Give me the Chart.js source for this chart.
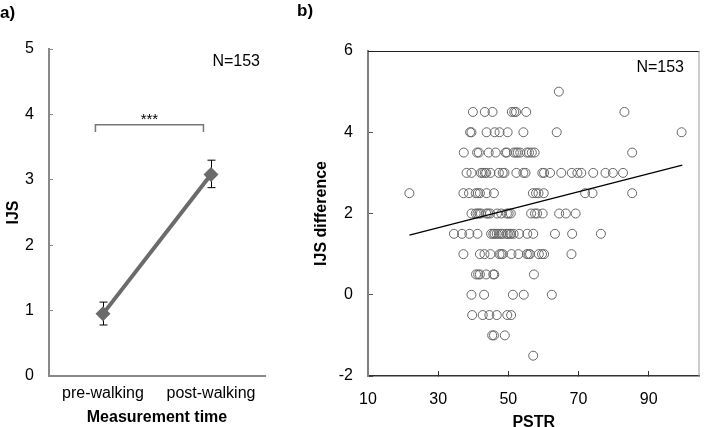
<!DOCTYPE html>
<html>
<head>
<meta charset="utf-8">
<script src="https://cdn.jsdelivr.net/npm/chart.js@4.4.1/dist/chart.umd.min.js"></script>
<style>
  body { margin: 0; background: #fff; width: 705px; height: 427px; overflow: hidden; position: relative; }
  canvas { position: absolute; top: 0; }
  #chartA { left: 0; }
  #chartB { left: 280px; }
</style>
</head>
<body>
<canvas id="chartA" width="280" height="427"></canvas>
<canvas id="chartB" width="425" height="427"></canvas>
<script>
// panel a: mean IJS before / after walking
const timeLabels = ['pre-walking', 'post-walking'];
const ijsMeans = [0.95, 3.08];
const ijsLow = [0.78, 2.88];
const ijsHigh = [1.13, 3.30];
const sigFrom = -0.07, sigTo = 0.93, sigY = 3.84, sigDrop = 0.11;

// panel b: IJS difference vs PSTR, one row of points per IJS difference level
const diffLevels = [5, 4.5, 4, 3.5, 3, 2.5, 2, 1.5, 1, 0.5, 0, -0.5, -1, -1.5];
const pstrByLevel = [
  [64.4],
  [39.9, 43.3, 45.5, 51.0, 51.7, 52.2, 55.1, 83.1],
  [39.1, 39.5, 43.8, 46.1, 47.5, 49.8, 54.3, 63.8, 99.4],
  [37.3, 41.1, 41.6, 44.4, 46.4, 49.2, 49.6, 51.6, 52.2, 52.7, 53.4, 55.3, 55.9, 56.7, 57.5, 85.3],
  [38.1, 39.5, 42.2, 42.7, 43.3, 43.7, 44.9, 47.3, 48.4, 48.9, 52.3, 54.3, 54.9, 59.7, 60.2, 61.9, 65.1, 68.1, 69.7, 70.8, 74.2, 77.7, 79.8, 82.7],
  [21.8, 37.2, 38.8, 40.7, 41.3, 41.9, 43.8, 45.9, 57.0, 57.9, 58.6, 60.1, 71.9, 74.0, 85.3],
  [39.5, 40.7, 41.2, 41.7, 42.2, 43.7, 44.2, 44.8, 46.8, 48.0, 49.6, 50.1, 50.7, 56.5, 57.6, 58.2, 59.8, 64.5, 66.4, 69.2],
  [34.5, 36.8, 38.9, 41.2, 45.1, 45.7, 46.1, 46.7, 47.3, 47.9, 48.4, 49.5, 49.9, 50.4, 50.8, 51.5, 53.1, 55.4, 57.1, 63.3, 68.2, 76.4],
  [37.2, 41.9, 43.2, 44.9, 47.5, 48.0, 48.4, 50.9, 52.9, 55.3, 55.8, 56.2, 58.7, 59.6, 60.2, 68.0],
  [40.8, 41.4, 41.9, 43.7, 45.7, 46.0, 57.3],
  [39.5, 43.1, 51.3, 54.4, 62.4],
  [39.7, 42.7, 44.6, 46.7, 49.7, 50.8],
  [45.4, 45.9, 49.0],
  [57.1]
];
const pstrTicks = [10, 30, 50, 70, 90];
const trendX = [21.8, 99.6];
const trendY = [1.47, 3.19];

const fontFamily = '"Liberation Sans", Arial, sans-serif';
Chart.defaults.font.family = fontFamily;
Chart.defaults.font.size = 16;
Chart.defaults.color = '#000';

const panelA = {
  id: 'panelA',
  beforeDatasetsDraw(chart) {
    const { ctx, scales: { x, y } } = chart;
    ctx.save();
    ctx.strokeStyle = '#000';
    ctx.lineWidth = 1;
    ijsMeans.forEach((m, i) => {
      const px = Math.round(x.getPixelForValue(i)) + 0.5;
      const top = y.getPixelForValue(ijsHigh[i]);
      const bot = y.getPixelForValue(ijsLow[i]);
      ctx.beginPath();
      ctx.moveTo(px, top); ctx.lineTo(px, bot);
      ctx.moveTo(px - 4, top); ctx.lineTo(px + 4, top);
      ctx.moveTo(px - 4, bot); ctx.lineTo(px + 4, bot);
      ctx.stroke();
    });
    ctx.restore();
  },
  afterDraw(chart) {
    const { ctx, scales: { x, y } } = chart;
    ctx.save();
    // significance bracket
    const x1 = x.getPixelForValue(sigFrom), x2 = x.getPixelForValue(sigTo);
    const yb = y.getPixelForValue(sigY), yd = y.getPixelForValue(sigY - sigDrop);
    ctx.strokeStyle = '#777';
    ctx.lineWidth = 1.5;
    ctx.beginPath();
    ctx.moveTo(x1, yd); ctx.lineTo(x1, yb); ctx.lineTo(x2, yb); ctx.lineTo(x2, yd);
    ctx.stroke();
    ctx.fillStyle = '#000';
    ctx.font = '15px ' + fontFamily;
    ctx.textAlign = 'center';
    ctx.textBaseline = 'middle';
    ctx.fillText('***', (x1 + x2) / 2, y.getPixelForValue(3.92));
    ctx.font = '16px ' + fontFamily;
    ctx.textAlign = 'right';
    ctx.fillText('N=153', 260, 62);
    ctx.font = 'bold 17px ' + fontFamily;
    ctx.textAlign = 'left';
    ctx.fillText('a)', 0, 13);
    ctx.restore();
  }
};

new Chart(document.getElementById('chartA'), {
  type: 'line',
  data: {
    labels: timeLabels,
    datasets: [{
      data: ijsMeans,
      borderColor: '#6b6b6b',
      backgroundColor: '#6b6b6b',
      borderWidth: 4,
      pointStyle: 'rectRot',
      pointRadius: 7.5,
      pointBorderWidth: 0,
      fill: false
    }]
  },
  options: {
    responsive: false,
    animation: false,
    layout: { padding: { left: 0, top: 49, right: 15, bottom: 0 } },
    plugins: { legend: { display: false }, tooltip: { enabled: false } },
    scales: {
      x: {
        offset: true,
        grid: { display: false },
        border: { color: '#888', width: 2 },
        ticks: { padding: 0, font: { size: 16 } },
        title: { display: true, text: 'Measurement time', font: { size: 16, weight: 'bold' }, padding: { top: 0, bottom: 0 } },
        afterFit(s) { s.height = 51; }
      },
      y: {
        min: 0, max: 5,
        ticks: { stepSize: 1, padding: 19, font: { size: 16 } },
        grid: { drawOnChartArea: false, drawTicks: true, tickLength: -4, color: '#888' },
        border: { color: '#888', width: 2 },
        title: { display: true, text: 'IJS', font: { size: 16, weight: 'bold' }, padding: { top: 4, bottom: 0 } },
        afterFit(s) { s.width = 49; }
      }
    }
  },
  plugins: [panelA]
});

const scatterPoints = [];
diffLevels.forEach((lv, i) => {
  pstrByLevel[i].forEach(p => scatterPoints.push({ x: p, y: lv }));
});

const panelB = {
  id: 'panelB',
  afterDraw(chart) {
    const { ctx, chartArea: a } = chart;
    ctx.save();
    ctx.lineWidth = 1;
    ctx.strokeStyle = '#222';
    ctx.beginPath();
    ctx.moveTo(a.left, a.top + 0.5); ctx.lineTo(a.right, a.top + 0.5);
    ctx.stroke();
    ctx.strokeStyle = '#999';
    ctx.beginPath();
    ctx.moveTo(a.right - 0.5, a.top); ctx.lineTo(a.right - 0.5, a.bottom);
    ctx.stroke();
    ctx.fillStyle = '#000';
    ctx.font = '16px ' + fontFamily;
    ctx.textAlign = 'right';
    ctx.textBaseline = 'middle';
    ctx.fillText('N=153', 404, 68);
    ctx.font = 'bold 17px ' + fontFamily;
    ctx.textAlign = 'left';
    ctx.fillText('b)', 17, 11);
    ctx.restore();
  }
};

new Chart(document.getElementById('chartB'), {
  type: 'scatter',
  data: {
    datasets: [{
      data: scatterPoints,
      order: 1,
      pointStyle: 'circle',
      pointRadius: 4.5,
      pointBorderWidth: 1,
      borderColor: '#666',
      backgroundColor: 'rgba(0,0,0,0)'
    }, {
      data: trendX.map((x, i) => ({ x: x, y: trendY[i] })),
      order: 0,
      showLine: true,
      pointRadius: 0,
      borderColor: '#000',
      borderWidth: 1.3
    }]
  },
  options: {
    responsive: false,
    animation: false,
    layout: { padding: { left: 0, top: 51, right: 1, bottom: 0 } },
    plugins: { legend: { display: false }, tooltip: { enabled: false } },
    scales: {
      x: {
        min: 10, max: 104.5,
        afterBuildTicks(s) { s.ticks = pstrTicks.map(v => ({ value: v })); },
        ticks: { padding: 19, font: { size: 16 } },
        grid: { drawOnChartArea: false, drawTicks: true, tickLength: -5, color: '#333' },
        border: { color: '#333', width: 1.5 },
        title: { display: true, text: 'PSTR', font: { size: 16, weight: 'bold', lineHeight: 1 }, padding: { top: 0, bottom: -4 } },
        afterFit(s) { s.height = 51; }
      },
      y: {
        min: -2, max: 6,
        ticks: { stepSize: 2, padding: 20, font: { size: 16 } },
        grid: { drawOnChartArea: false, drawTicks: true, tickLength: -5, color: '#555' },
        border: { color: '#808080', width: 2 },
        title: { display: true, text: 'IJS difference', font: { size: 16, weight: 'bold' }, padding: { top: 32, bottom: 0 } },
        afterFit(s) { s.width = 88; }
      }
    }
  },
  plugins: [panelB]
});
</script>
</body>
</html>
